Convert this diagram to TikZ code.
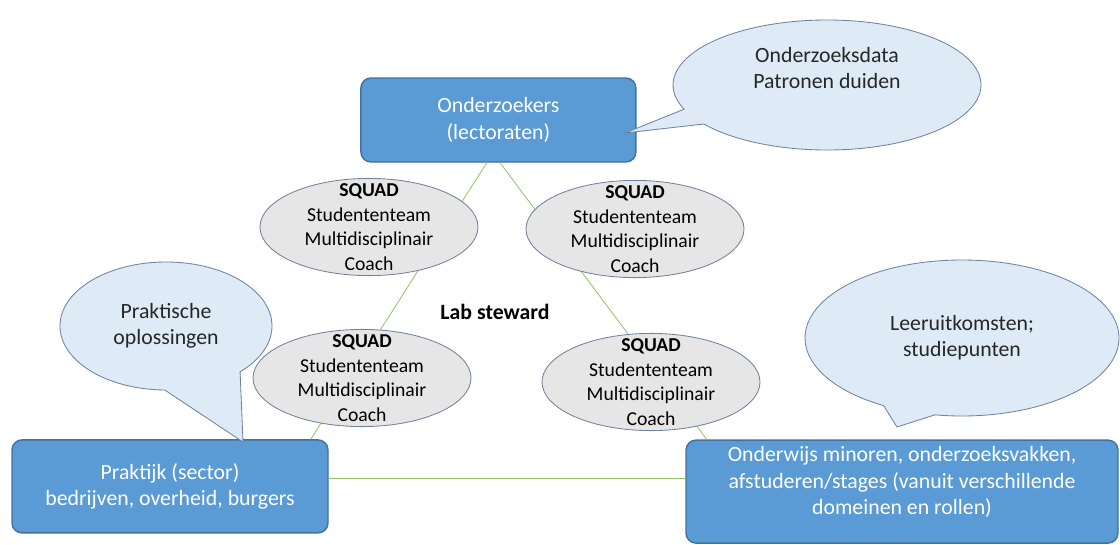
\documentclass[tikz,border=0pt]{standalone}
\usepackage{fontspec}
\setmainfont{Carlito}
\usetikzlibrary{shapes.geometric,shapes.callouts}

\definecolor{boxblue}{RGB}{91,155,213}
\definecolor{boxedge}{RGB}{65,113,156}
\definecolor{bubblefill}{RGB}{222,235,247}
\definecolor{bubbleedge}{RGB}{112,130,158}
\definecolor{squadfill}{RGB}{231,230,230}
\definecolor{linkgreen}{RGB}{150,196,108}

\tikzset{
  partner/.style={rectangle, rounded corners=0.25cm, draw=boxedge, line width=1pt,
    fill=boxblue, text=white, align=center, font=\fontsize{15.5}{18.6}\selectfont},
  partnertext/.style={align=center, text=white, font=\fontsize{15.5}{18.6}\selectfont},
  squad/.style={ellipse, draw=bubbleedge, line width=0.6pt, fill=squadfill,
    inner sep=-0.4cm, minimum width=5.45cm, minimum height=2.43cm,
    align=center, font=\fontsize{14}{17.4}\selectfont},
  bubble/.style={ellipse callout, draw=bubbleedge, line width=0.6pt, fill=bubblefill,
    align=center, text=black!85, font=\fontsize{15.5}{18.6}\selectfont},
  bubbletext/.style={align=center, text=black!85, font=\fontsize{15.5}{18.6}\selectfont},
  link/.style={draw=linkgreen, line width=0.6pt}
}

\begin{document}
\begin{tikzpicture}
  \useasboundingbox (0,0) rectangle (28,-13.625);

  % the three partners
  \node[partner, minimum width=6.875cm, minimum height=2.1cm] (onderzoekers) at (12.46,-3.0)
    {Onderzoekers\\(lectoraten)};
  \node[partner, minimum width=7.9cm, minimum height=2.325cm] (praktijk) at (4.25,-12.16)
    {Praktijk (sector)\\bedrijven, overheid, burgers};
  \node[partner, minimum width=10.8cm, minimum height=2.575cm,
        label={[partnertext, yshift=0.24cm]center:{Onderwijs minoren, onderzoeksvakken,\\afstuderen/stages (vanuit verschillende\\domeinen en rollen)}}]
    (onderwijs) at (22.55,-12.29) {};

  % triangle
  \begin{scope}[link]
    \draw ([xshift=-0.29cm]onderzoekers.south) -- ([xshift=3.52cm]praktijk.north);
    \draw ([xshift=0.04cm]onderzoekers.south) -- ([xshift=-4.88cm]onderwijs.north);
    \draw ([yshift=0.21cm]praktijk.east) -- ([yshift=0.34cm]onderwijs.west);
  \end{scope}

  % squads
  \foreach \nm/\pos in {squadA/{(9.225,-5.675)}, squadB/{(15.875,-5.725)},
                        squadC/{(9.05,-9.45)}, squadD/{(16.275,-9.55)}}
    \node[squad] (\nm) at \pos
      {\textbf{SQUAD}\\Studententeam\\Multidisciplinair\\Coach};

  \node[font=\bfseries\fontsize{15.5}{18.6}\selectfont] (labsteward) at (12.375,-7.8) {Lab steward};

  % speech bubbles
  \node[bubble, minimum width=7.7cm, minimum height=3.25cm,
        callout absolute pointer={(15.625,-3.325)}, callout pointer arc=15,
        label={[bubbletext, yshift=0.42cm]center:{Onderzoeksdata\\Patronen duiden}}]
    (databubble) at (20.675,-2.125) {};
  \node[bubble, minimum width=5.3cm, minimum height=3.2cm,
        callout absolute pointer={(6.075,-11.05)}, callout pointer arc=45]
    (praktischbubble) at (4.15,-8.15) {Praktische\\oplossingen};
  \node[bubble, minimum width=7.85cm, minimum height=3.9cm,
        callout absolute pointer={(22.425,-10.675)}, callout pointer arc=20]
    (leerbubble) at (24.05,-8.45) {Leeruitkomsten;\\studiepunten};
\end{tikzpicture}
\end{document}
